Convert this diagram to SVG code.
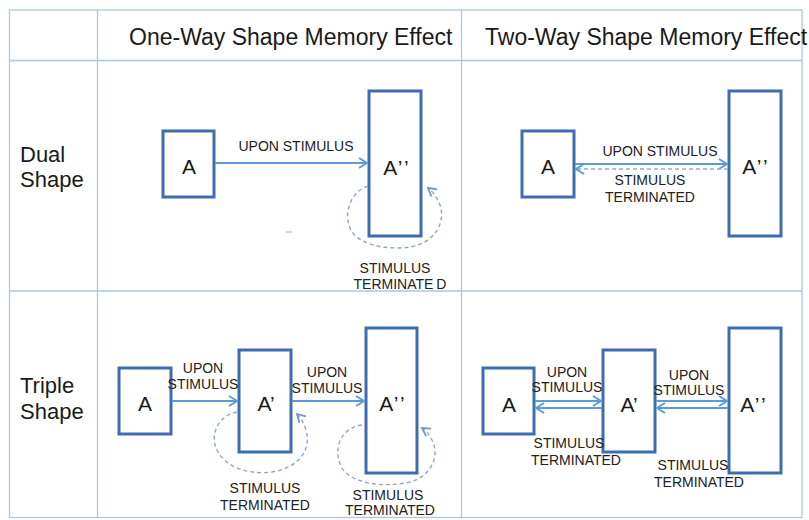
<svg xmlns="http://www.w3.org/2000/svg" width="809" height="520" viewBox="0 0 809 520">
<defs>
<style>
.grid{stroke:#a9c8e2;stroke-width:1.3;fill:none}
.box{fill:#ffffff;stroke:#3d6cb0;stroke-width:3}
.hdr{font-family:"Liberation Sans",Arial,sans-serif;font-size:23px;fill:#1a1a1a}
.row{font-family:"Liberation Sans",Arial,sans-serif;font-size:22px;fill:#1a1a1a}
.lbl{font-family:"Liberation Sans",Arial,sans-serif;font-size:21px;fill:#1a1a1a;text-anchor:middle}
.cap{font-family:"Liberation Sans",Arial,sans-serif;font-size:14px;fill:#222222;text-anchor:middle}
.arr{stroke:#5d9bd6;stroke-width:2;fill:none;marker-end:url(#head)}
.darr{stroke:#8fb0d6;stroke-width:1.6;fill:none;stroke-dasharray:4 3;marker-end:url(#head)}
.loop{stroke:#8fa6c6;stroke-width:1.4;fill:none;stroke-dasharray:4 3;marker-end:url(#lhead)}
</style>
<marker id="head" markerUnits="userSpaceOnUse" markerWidth="12" markerHeight="12" refX="10" refY="6" orient="auto">
<path d="M2,1 L10,6 L2,11" fill="none" stroke="#5d9bd6" stroke-width="2"/>
</marker>
<marker id="lhead" markerUnits="userSpaceOnUse" markerWidth="12" markerHeight="12" refX="10" refY="6" orient="auto">
<path d="M2,1.5 L10,6 L2,10.5" fill="none" stroke="#6f97c9" stroke-width="1.8"/>
</marker>
</defs>
<rect width="809" height="520" fill="#ffffff"/>
<g id="table">
<rect class="grid" x="9.5" y="10" width="792.5" height="507.5"/>
<line class="grid" x1="97.5" y1="10" x2="97.5" y2="517.5"/>
<line class="grid" x1="461.5" y1="10" x2="461.5" y2="517.5"/>
<line class="grid" x1="9.5" y1="60.5" x2="802" y2="60.5"/>
<line class="grid" x1="9.5" y1="291" x2="802" y2="291"/>
<text class="hdr" x="129" y="45">One-Way Shape Memory Effect</text>
<text class="hdr" x="485" y="45">Two-Way Shape Memory Effect</text>
<text class="row" x="20" y="162">Dual</text>
<text class="row" x="20" y="187">Shape</text>
<text class="row" x="20" y="393">Triple</text>
<text class="row" x="20" y="419">Shape</text>
</g>
<g id="ow-dual-A"><rect class="box" x="163" y="131" width="51" height="66"/><text class="lbl" x="189" y="174">A</text></g>
<g id="ow-dual-A2"><rect class="box" x="369" y="91" width="52" height="145"/><text class="lbl" x="397" y="175" letter-spacing="2">A’’</text></g>
<g id="tw-dual-A"><rect class="box" x="522" y="131" width="52" height="66"/><text class="lbl" x="548" y="174">A</text></g>
<g id="tw-dual-A2"><rect class="box" x="729" y="91" width="52" height="145"/><text class="lbl" x="756" y="174" letter-spacing="2">A’’</text></g>
<g id="ow-tri-A"><rect class="box" x="119" y="368" width="52" height="66"/><text class="lbl" x="145" y="411">A</text></g>
<g id="ow-tri-A1"><rect class="box" x="239" y="350" width="52" height="102"/><text class="lbl" x="266" y="411">A’</text></g>
<g id="ow-tri-A2"><rect class="box" x="366" y="328" width="51" height="145"/><text class="lbl" x="393" y="411" letter-spacing="2">A’’</text></g>
<g id="tw-tri-A"><rect class="box" x="483" y="368" width="51" height="66"/><text class="lbl" x="509" y="412">A</text></g>
<g id="tw-tri-A1"><rect class="box" x="603" y="350" width="52" height="102"/><text class="lbl" x="629" y="412">A’</text></g>
<g id="tw-tri-A2"><rect class="box" x="729" y="328" width="52" height="145"/><text class="lbl" x="754" y="412" letter-spacing="2">A’’</text></g>
<g id="connectors">
<line class="arr" x1="215" y1="163" x2="367" y2="163"/>
<path class="loop" d="M368,186 C350,192 342,215 352,232 C362,246 390,250 410,247 C435,243 446,222 440,205 C437,197 433,192 428,188"/>
<line class="arr" x1="575" y1="164" x2="727" y2="164"/>
<line class="darr" x1="728" y1="169" x2="576" y2="169"/>
<line class="arr" x1="172" y1="401" x2="237" y2="401"/>
<line class="arr" x1="292" y1="401" x2="364" y2="401"/>
<path class="loop" d="M237,412 C220,415 210,432 216,448 C224,468 250,475 272,472 C298,468 312,450 306,430 C304,423 300,417 297,414"/>
<path class="loop" d="M362,425 C340,428 332,450 342,468 C352,484 385,488 410,482 C432,476 440,455 432,440 C429,434 425,430 422,428"/>
<line class="arr" x1="535" y1="401" x2="601" y2="401"/>
<line class="arr" x1="602" y1="408" x2="536" y2="408"/>
<line class="arr" x1="656" y1="401" x2="727" y2="401"/>
<line class="arr" x1="728" y1="408" x2="657" y2="408"/>
<line x1="286" y1="232" x2="292" y2="232" stroke="#b0b0b0" stroke-width="1"/>
</g>
<g id="labels">
<text class="cap" x="296" y="151">UPON STIMULUS</text>
<text class="cap" x="395" y="273">STIMULUS</text>
<text class="cap" x="400" y="289">TERMINATE<tspan dx="3">D</tspan></text>
<text class="cap" x="660" y="156">UPON STIMULUS</text>
<text class="cap" x="650" y="185">STIMULUS</text>
<text class="cap" x="650" y="202">TERMINATED</text>
<text class="cap" x="203" y="373">UPON</text>
<text class="cap" x="203" y="389">STIMULUS</text>
<text class="cap" x="327" y="377">UPON</text>
<text class="cap" x="327" y="393">STIMULUS</text>
<text class="cap" x="265" y="493">STIMULUS</text>
<text class="cap" x="265" y="510">TERMINATED</text>
<text class="cap" x="388" y="500">STIMULUS</text>
<text class="cap" x="390" y="515">TERMINATED</text>
<text class="cap" x="567" y="377">UPON</text>
<text class="cap" x="567" y="392">STIMULUS</text>
<text class="cap" x="689" y="380">UPON</text>
<text class="cap" x="689" y="395">STIMULUS</text>
<text class="cap" x="569" y="448">STIMULUS</text>
<text class="cap" x="576" y="465">TERMINATED</text>
<text class="cap" x="693" y="470">STIMULUS</text>
<text class="cap" x="699" y="487">TERMINATED</text>
</g>
</svg>
